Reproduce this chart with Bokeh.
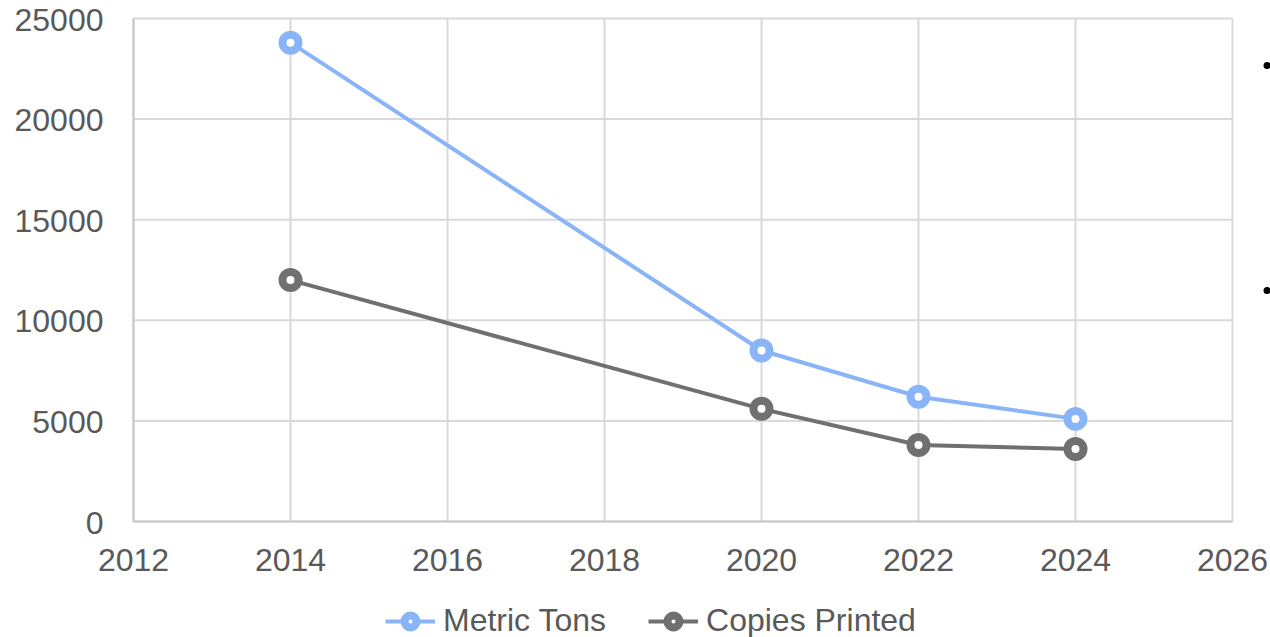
from bokeh.plotting import figure
from bokeh.models import Range1d, Legend, LegendItem
from bokeh.embed import file_html
from bokeh.resources import INLINE

years = [2014, 2020, 2022, 2024]
metric_tons = [23800, 8500, 6200, 5100]
copies_printed = [12000, 5600, 3800, 3600]
x_ticks = [2012, 2014, 2016, 2018, 2020, 2022, 2024, 2026]
y_ticks = [0, 5000, 10000, 15000, 20000, 25000]
bullet_x = [2026.44, 2026.44]   # stray bullet dots at the right edge
bullet_y = [22660, 11480]

FONT = "Liberation Sans"
TXT = "#595959"
BLUE = "#8AB4F8"
GREY = "#707070"
GRID = "#d9d9d9"
AXIS = "#c8c8c8"

# the frame covers the whole page; 78.5 px per year (2012 at x=133),
# 503 px per 25000 (0 at y=521, 25000 at y=18)
PX_X = 1099 / 14.0
PX_Y = 503 / 25000.0
x_start = 2012 - 133 / PX_X
x_end = 2012 + (1270 - 133) / PX_X
y_start = -(637 - 521) / PX_Y
y_end = 25000 + 18 / PX_Y

p = figure(width=1270, height=637, output_backend="svg", toolbar_location=None,
           x_range=Range1d(x_start, x_end), y_range=Range1d(y_start, y_end),
           x_axis_location=None, y_axis_location=None,
           min_border_left=0, min_border_right=0, min_border_top=0,
           min_border_bottom=0)
p.outline_line_color = None
for g in p.grid:
    g.visible = False

n_y = len(y_ticks)
n_x = len(x_ticks)
# grid lines
p.segment(x0=[x_ticks[0]] * n_y, x1=[x_ticks[-1]] * n_y, y0=y_ticks, y1=y_ticks,
          line_color=GRID, line_width=2, level="underlay")
p.segment(x0=x_ticks, x1=x_ticks, y0=[y_ticks[0]] * n_x, y1=[y_ticks[-1]] * n_x,
          line_color=GRID, line_width=2, level="underlay")
# axis lines
p.segment(x0=[x_ticks[0], x_ticks[0]], x1=[x_ticks[-1], x_ticks[0]],
          y0=[y_ticks[0], y_ticks[0]], y1=[y_ticks[0], y_ticks[-1]],
          line_color=AXIS, line_width=2, level="underlay")
# tick labels
p.text(x=x_ticks, y=[y_ticks[0]] * n_x, text=[str(t) for t in x_ticks],
       y_offset=38, text_align="center", text_baseline="middle",
       text_font={"value": FONT}, text_font_size={"value": "32px"}, text_color=TXT)
p.text(x=[x_ticks[0]] * n_y, y=y_ticks, text=[str(t) for t in y_ticks],
       x_offset=-30, y_offset=1, text_align="right", text_baseline="middle",
       text_font={"value": FONT}, text_font_size={"value": "32px"}, text_color=TXT)

l1 = p.line(years, metric_tons, line_color=BLUE, line_width=4)
s1 = p.scatter(years, metric_tons, size=16, line_width=8, line_color=BLUE, fill_color="white")
l2 = p.line(years, copies_printed, line_color=GREY, line_width=4)
s2 = p.scatter(years, copies_printed, size=16, line_width=8, line_color=GREY, fill_color="white")

p.scatter(bullet_x, bullet_y, size=7, fill_color="black", line_color=None)

legend = Legend(items=[LegendItem(label="Metric Tons", renderers=[l1, s1]),
                       LegendItem(label="Copies Printed", renderers=[l2, s2])],
                orientation="horizontal", location=(385, -2),
                label_text_font=FONT, label_text_font_size="32px", label_text_color=TXT,
                glyph_width=50, glyph_height=30, label_height=30, label_standoff=8,
                spacing=42, padding=0, margin=0,
                border_line_color=None, background_fill_alpha=0)
p.add_layout(legend, "center")

open("out.html", "w").write(file_html(p, INLINE))
